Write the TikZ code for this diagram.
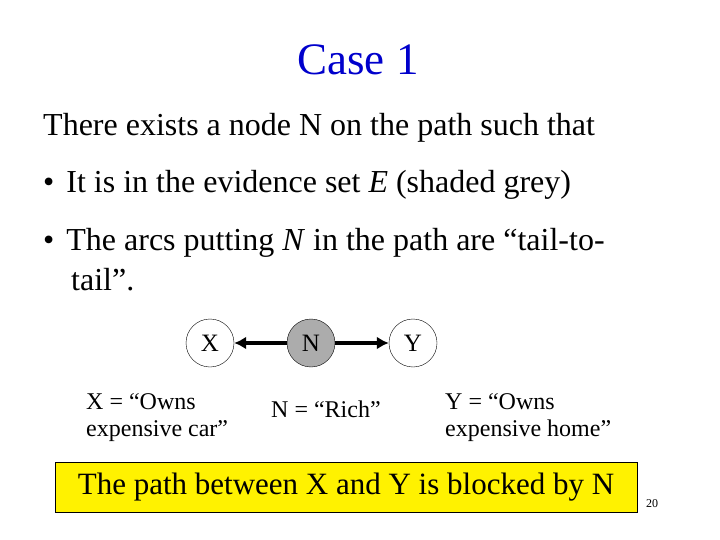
\documentclass[tikz,border=0pt]{standalone}
\usepackage{fontspec}
\setmainfont{Liberation Serif}
\usetikzlibrary{arrows.meta}
\begin{document}
\begin{tikzpicture}[x=1pt,y=-1pt,
  bn/.style={circle,draw,thin,minimum size=48pt,inner sep=0pt,font=\fontsize{25}{28}\selectfont},
  arc/.style={line width=4pt,-{Latex[length=12pt,width=13pt]}},
  txt/.style={anchor=west,inner sep=0pt,font=\fontsize{32}{36}\selectfont},
  captext/.style={align=left,inner sep=0pt,font=\fontsize{24}{27}\selectfont}]
\useasboundingbox (0,0) rectangle (720,540);
\node[inner sep=0pt,text=blue!80!black,font=\fontsize{45}{50}\selectfont] (title) at (358,60) {Case 1};
\node[txt] (l1) at (43,128) {There exists a node N on the path such that};
\node[txt] (l2) at (43,185) {\textbullet\hspace{12pt}It is in the evidence set \textit{E} (shaded grey)};
\node[txt] (l3) at (43,243) {\textbullet\hspace{12pt}The arcs putting \textit{N} in the path are “tail-to-};
\node[txt] (l4) at (71,280) {tail”.};
\node[bn] (X) at (210,343) {X};
\node[bn,fill=gray!65] (N) at (311,343) {N};
\node[bn] (Y) at (413,343) {Y};
\draw[arc] (N) -- (X);
\draw[arc] (N) -- (Y);
\node[captext,anchor=west] (cx) at (86,418) {X = “Owns\\expensive car”};
\node[captext,anchor=west] (cn) at (271,409) {N = “Rich”};
\node[captext,anchor=west] (cy) at (445,418) {Y = “Owns\\expensive home”};
\node[draw,fill=yellow,minimum width=582pt,minimum height=50pt,inner sep=0pt,font=\fontsize{31}{34}\selectfont] (box) at (346,487) {The path between X and Y is blocked by N};
\node[inner sep=0pt,font=\fontsize{12}{14}\selectfont] (pg) at (652,504) {20};
\end{tikzpicture}
\end{document}
